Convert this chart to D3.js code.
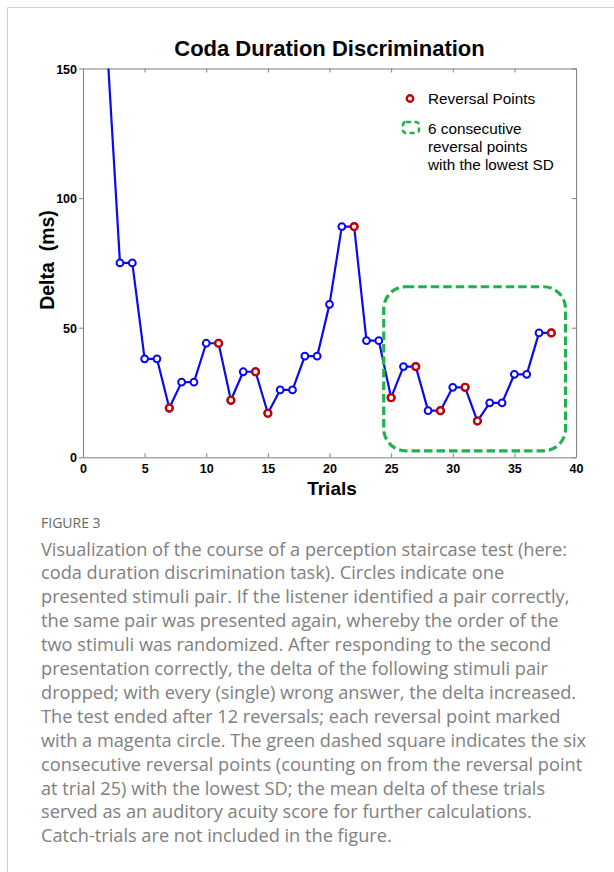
<!DOCTYPE html>
<html>
<head>
<meta charset="utf-8">
<script src="https://cdn.jsdelivr.net/npm/d3@7"></script>
<style>
  html, body { margin: 0; padding: 0; background: #ffffff; }
  svg { display: block; }
</style>
</head>
<body>
<div id="chart"></div>
<script>
// staircase data
const trials = [2, 3, 4, 5, 6, 7, 8, 9, 10, 11, 12, 13, 14, 15, 16, 17, 18, 19, 20,
  21, 22, 23, 24, 25, 26, 27, 28, 29, 30, 31, 32, 33, 34, 35, 36, 37, 38];
const deltaValues = [155, 75, 75, 38, 38, 19, 29, 29, 44, 44, 22, 33, 33, 17, 26, 26, 39, 39, 59,
  89, 89, 45, 45, 23, 35, 35, 18, 18, 27, 27, 14, 21, 21, 32, 32, 48, 48];
const reversalTrials = [7, 11, 12, 14, 15, 22, 25, 27, 29, 31, 32, 38];

const xTicks = [0, 5, 10, 15, 20, 25, 30, 35, 40];
const yTicks = [0, 50, 100, 150];

// green box around the 6 lowest-SD reversals (data units)
const boxTrials = [24.4, 39.15];
const boxDelta = [2.5, 65.8];

const legendLabels = ["Reversal Points", "6 consecutive", "reversal points", "with the lowest SD"];

const captionTitle = "FIGURE 3";
const captionLines = [
  "Visualization of the course of a perception staircase test (here:",
  "coda duration discrimination task). Circles indicate one",
  "presented stimuli pair. If the listener identified a pair correctly,",
  "the same pair was presented again, whereby the order of the",
  "two stimuli was randomized. After responding to the second",
  "presentation correctly, the delta of the following stimuli pair",
  "dropped; with every (single) wrong answer, the delta increased.",
  "The test ended after 12 reversals; each reversal point marked",
  "with a magenta circle. The green dashed square indicates the six",
  "consecutive reversal points (counting on from the reversal point",
  "at trial 25) with the lowest SD; the mean delta of these trials",
  "served as an auditory acuity score for further calculations.",
  "Catch-trials are not included in the figure."
];

const points = trials.map((t, i) => ({ trial: t, delta: deltaValues[i] }));
const reversals = points.filter(d => reversalTrials.includes(d.trial));

const width = 614;
const height = 872;
const margin = { top: 68.5, right: 38, bottom: 414.7, left: 83 };
const plotW = width - margin.left - margin.right;
const plotH = height - margin.top - margin.bottom;

const blue = "#0a0af0";
const red = "#c40000";
const green = "#22b14c";
const axisColor = "#808080";
const plotFont = "'Liberation Sans', Arial, Helvetica, sans-serif";

const svg = d3.select("#chart")
  .append("svg")
  .attr("width", width)
  .attr("height", height);

// card border (left and top)
svg.append("path")
  .attr("d", `M7.5,${height} L7.5,7.5 L${width},7.5`)
  .attr("fill", "none")
  .attr("stroke", "#d2d2d2")
  .attr("stroke-width", 1);

const x = d3.scaleLinear().domain([0, 40]).range([0, plotW]);
const y = d3.scaleLinear().domain([0, 150]).range([plotH, 0]);

const chart = svg.append("g")
  .attr("transform", `translate(${margin.left}, ${margin.top})`);

svg.append("defs")
  .append("clipPath")
  .attr("id", "plot-clip")
  .append("rect")
  .attr("x", 0)
  .attr("y", 0)
  .attr("width", plotW)
  .attr("height", plotH);

// title
svg.append("text")
  .attr("x", margin.left + plotW / 2)
  .attr("y", 56)
  .attr("text-anchor", "middle")
  .attr("font-family", plotFont)
  .attr("font-size", "22px")
  .attr("font-weight", "700")
  .attr("fill", "#000")
  .text("Coda Duration Discrimination");

// axes
chart.append("g")
  .attr("transform", `translate(0, ${plotH})`)
  .call(d3.axisBottom(x).tickValues(xTicks).tickSizeInner(-4).tickSizeOuter(0).tickPadding(7));

const leftAxis = chart.append("g")
  .call(d3.axisLeft(y).tickValues(yTicks).tickSizeInner(4).tickSizeOuter(0).tickPadding(2));

chart.append("g")
  .call(d3.axisTop(x).tickValues(xTicks).tickSizeInner(-4).tickSizeOuter(0).tickFormat(""));

chart.append("g")
  .attr("transform", `translate(${plotW}, 0)`)
  .call(d3.axisRight(y).tickValues(yTicks).tickSizeInner(-4).tickSizeOuter(0).tickFormat(""));

chart.selectAll(".domain, .tick line")
  .attr("stroke", axisColor)
  .attr("stroke-width", 1);

chart.selectAll(".tick text")
  .attr("font-family", plotFont)
  .attr("font-size", "12.5px")
  .attr("font-weight", "700")
  .attr("fill", "#000");

leftAxis.selectAll(".tick text").attr("dy", "0.36em");

// axis labels
svg.append("text")
  .attr("x", 332)
  .attr("y", 495)
  .attr("text-anchor", "middle")
  .attr("font-family", plotFont)
  .attr("font-size", "19px")
  .attr("font-weight", "700")
  .text("Trials");

svg.append("text")
  .attr("transform", "translate(54, 260) rotate(-90)")
  .attr("text-anchor", "middle")
  .attr("font-family", plotFont)
  .attr("font-size", "19.5px")
  .attr("font-weight", "700")
  .attr("xml:space", "preserve")
  .text("Delta  (ms)");

// data
const plotArea = chart.append("g").attr("clip-path", "url(#plot-clip)");

const line = d3.line()
  .x(d => x(d.trial))
  .y(d => y(d.delta));

plotArea.append("path")
  .datum(points)
  .attr("d", line)
  .attr("fill", "none")
  .attr("stroke", blue)
  .attr("stroke-width", 2.2)
  .attr("stroke-linejoin", "round");

plotArea.selectAll(".trial-dot")
  .data(points)
  .enter()
  .append("circle")
  .attr("class", "trial-dot")
  .attr("cx", d => x(d.trial))
  .attr("cy", d => y(d.delta))
  .attr("r", 3.4)
  .attr("fill", "#ffffff")
  .attr("stroke", blue)
  .attr("stroke-width", 2);

plotArea.selectAll(".reversal-dot")
  .data(reversals)
  .enter()
  .append("circle")
  .attr("class", "reversal-dot")
  .attr("cx", d => x(d.trial))
  .attr("cy", d => y(d.delta))
  .attr("r", 3.4)
  .attr("fill", "#ffffff")
  .attr("stroke", red)
  .attr("stroke-width", 2.4);

// dashed box
chart.append("rect")
  .attr("x", x(boxTrials[0]))
  .attr("y", y(boxDelta[1]))
  .attr("width", x(boxTrials[1]) - x(boxTrials[0]))
  .attr("height", y(boxDelta[0]) - y(boxDelta[1]))
  .attr("rx", 22)
  .attr("fill", "none")
  .attr("stroke", green)
  .attr("stroke-width", 3.2)
  .attr("stroke-dasharray", "8.5 4");

// legend
const legend = svg.append("g");

legend.append("circle")
  .attr("cx", 410)
  .attr("cy", 98.5)
  .attr("r", 3.2)
  .attr("fill", "#ffffff")
  .attr("stroke", red)
  .attr("stroke-width", 2.4);

legend.append("rect")
  .attr("x", 403)
  .attr("y", 122)
  .attr("width", 16)
  .attr("height", 11)
  .attr("rx", 3)
  .attr("fill", "none")
  .attr("stroke", green)
  .attr("stroke-width", 2.6)
  .attr("stroke-dasharray", "5 3.5");

const legendY = [103.5, 133.5, 151.5, 169.5];

legend.selectAll(".legend-text")
  .data(legendLabels)
  .enter()
  .append("text")
  .attr("class", "legend-text")
  .attr("x", 428)
  .attr("y", (d, i) => legendY[i])
  .attr("font-family", plotFont)
  .attr("font-size", "15.3px")
  .attr("fill", "#000")
  .text(d => d);

// caption
const captionFont = "'Open Sans', Lato, sans-serif";

svg.append("text")
  .attr("x", 41)
  .attr("y", 527.5)
  .attr("font-family", captionFont)
  .attr("font-size", "14px")
  .attr("fill", "#666666")
  .text(captionTitle);

svg.selectAll(".caption-line")
  .data(captionLines)
  .enter()
  .append("text")
  .attr("class", "caption-line")
  .attr("x", 41)
  .attr("y", (d, i) => 555.5 + i * 23.9)
  .attr("font-family", captionFont)
  .attr("font-size", "18.2px")
  .attr("font-weight", "400")
  .attr("fill", "#808080")
  .text(d => d);
</script>
</body>
</html>
